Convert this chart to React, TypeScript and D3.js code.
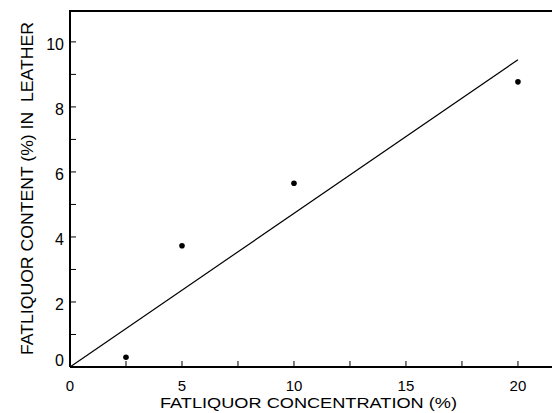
import React, { useRef, useEffect } from 'react';
import * as d3 from 'd3';

// measured points
const concentration = [2.5, 5, 10, 20];
const content = [0.3, 3.73, 5.65, 8.77];
// fitted line ends
const lineX = [0, 20];
const lineY = [0, 9.45];
const xTicks = [0, 5, 10, 15, 20];
const yTicks = [0, 2, 4, 6, 8, 10];

export default function App() {
  const svgRef = useRef<SVGSVGElement>(null);

  useEffect(() => {
    const width = 552;
    const height = 413;
    const margin = { top: 11, right: 0, bottom: 46, left: 70 };
    const font = 'Liberation Sans, Arial, sans-serif';

    const svg = d3.select(svgRef.current).attr('width', width).attr('height', height);
    svg.selectAll('*').remove();

    const x = d3.scaleLinear().domain([0, 21.52]).range([margin.left, width]);
    const y = d3.scaleLinear().domain([0, 10.95]).range([height - margin.bottom, margin.top]);

    svg.append('rect').attr('width', width).attr('height', height).attr('fill', 'white');

    // frame
    svg.append('path')
      .attr('d', `M${x(0)},${y(0)}V${y(10.95)}H${width + 2}M${x(0)},${y(0)}H${width + 2}`)
      .attr('fill', 'none')
      .attr('stroke', 'black')
      .attr('stroke-width', 2);

    // x ticks (inward)
    const xAll = d3.range(0, 22, 2.5);
    svg.append('g').selectAll('line').data(xAll).enter().append('line')
      .attr('x1', d => x(d)).attr('x2', d => x(d))
      .attr('y1', y(0)).attr('y2', y(0) - 6)
      .attr('stroke', 'black').attr('stroke-width', 1);
    svg.append('g').selectAll('text').data(xTicks).enter().append('text')
      .attr('x', d => x(d)).attr('y', y(0) + 23.5)
      .attr('text-anchor', 'middle')
      .style('font-family', font).style('font-size', '15px')
      .text(d => d);

    // y ticks (inward)
    const yAll = d3.range(0, 11, 1);
    svg.append('g').selectAll('line').data(yAll).enter().append('line')
      .attr('x1', x(0)).attr('x2', x(0) + 6)
      .attr('y1', d => y(d)).attr('y2', d => y(d))
      .attr('stroke', 'black').attr('stroke-width', 1);
    svg.append('g').selectAll('text').data(yTicks).enter().append('text')
      .attr('x', x(0) - 6).attr('y', d => y(d) + (d === 0 ? -1 : 8))
      .attr('text-anchor', 'end')
      .style('font-family', font).style('font-size', '16px')
      .text(d => d);

    // axis titles
    svg.append('text')
      .attr('x', 308.5).attr('y', 407.5)
      .attr('text-anchor', 'middle')
      .attr('textLength', 297)
      .attr('lengthAdjust', 'spacingAndGlyphs')
      .style('font-family', font).style('font-size', '15px')
      .text('FATLIQUOR CONCENTRATION (%)');
    svg.append('text')
      .attr('transform', `translate(33,${188.5}) rotate(-90)`)
      .attr('text-anchor', 'middle')
      .attr('textLength', 333)
      .attr('lengthAdjust', 'spacingAndGlyphs')
      .style('font-family', font).style('font-size', '16px')
      .style('white-space', 'pre')
      .text('FATLIQUOR CONTENT (%) IN  LEATHER');

    // fitted line
    const line = d3.line<number>()
      .x(d => x(lineX[d]))
      .y(d => y(lineY[d]));
    svg.append('path')
      .datum([0, 1])
      .attr('d', line)
      .attr('fill', 'none')
      .attr('stroke', 'black')
      .attr('stroke-width', 1.2);

    // points
    svg.append('g').selectAll('circle').data(concentration).enter().append('circle')
      .attr('cx', d => x(d))
      .attr('cy', (d, i) => y(content[i]))
      .attr('r', 2.8)
      .attr('fill', 'black');
  }, []);

  return <svg ref={svgRef} style={{ position: 'absolute', left: 0, top: 0 }}></svg>;
}
